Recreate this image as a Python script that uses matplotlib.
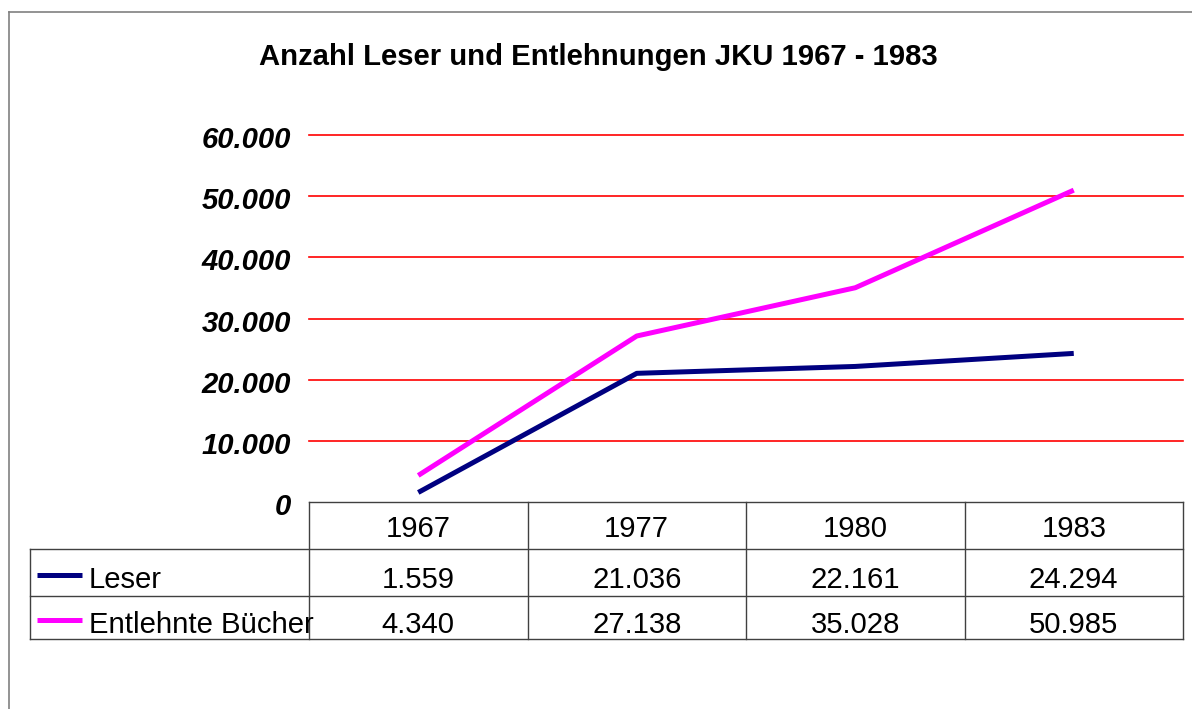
import matplotlib.pyplot as plt
from matplotlib.lines import Line2D
from matplotlib.transforms import blended_transform_factory, ScaledTranslation

# data
years = ['1967', '1977', '1980', '1983']
leser = [1559, 21036, 22161, 24294]
buecher = [4340, 27138, 35028, 50985]
series_names = ['Leser', 'Entlehnte Bücher']
series_colors = ['#000080', '#FF00FF']
y_ticks = [0, 10000, 20000, 30000, 40000, 50000, 60000]
title = 'Anzahl Leser und Entlehnungen JKU 1967 - 1983'

plt.rcParams['font.family'] = ['Liberation Sans', 'DejaVu Sans']
FS = 21.1

W, H = 1192, 709
fig = plt.figure(figsize=(W / 100, H / 100), dpi=100)


def fx(x):
    return x / W


def fy(y):
    return 1 - y / H


def de(v):
    # German thousands separator
    return f'{v:,}'.replace(',', '.')


ax = fig.add_axes([fx(309), fy(502), fx(1183) - fx(309), fy(135) - fy(502)])
xs = range(len(years))
series = [leser, buecher]
for vals, col in zip(series, series_colors):
    ax.plot(xs, vals, color=col, lw=3.6, solid_capstyle='butt', zorder=3)

ax.set_xlim(-0.5, len(years) - 0.5)
ax.set_ylim(0, 60000)
ax.set_yticks(y_ticks)
ax.set_yticklabels([de(v) for v in y_ticks], fontsize=FS,
                   fontweight='bold', fontstyle='italic')
ax.tick_params(axis='y', length=0, pad=13)
ax.set_xticks([])
shift = ScaledTranslation(0, -13 / 100, fig.dpi_scale_trans)
for lbl in ax.get_yticklabels():
    lbl.set_verticalalignment('baseline')
    lbl.set_transform(lbl.get_transform() + shift)
for s in ax.spines.values():
    s.set_visible(False)
for v in y_ticks[1:]:
    ax.axhline(v, color='#FF0000', lw=1.2, clip_on=False, zorder=1)

# data table below the plot
tr = blended_transform_factory(ax.transData, fig.transFigure)
line_kw = dict(color='#404040', lw=1.0)
rows = [502, 549, 596, 639]
baselines = [537, 588, 633]
key_y = [575, 620]

# header top line and column dividers
fig.add_artist(Line2D([-0.5, len(years) - 0.5], [fy(rows[0])] * 2,
                      transform=tr, **line_kw))
for i in range(len(years) + 1):
    fig.add_artist(Line2D([i - 0.5] * 2, [fy(rows[0]), fy(rows[-1])],
                          transform=tr, **line_kw))
# rows incl. legend column
for r in rows[1:]:
    fig.add_artist(Line2D([fx(30), fx(1183)], [fy(r)] * 2, **line_kw))
fig.add_artist(Line2D([fx(30)] * 2, [fy(rows[1]), fy(rows[-1])], **line_kw))

for i, yr in enumerate(years):
    ax.text(i, fy(baselines[0]), yr, transform=tr, ha='center', va='baseline',
            fontsize=FS, clip_on=False)

for k, (vals, name, col) in enumerate(zip(series, series_names, series_colors)):
    yb = baselines[k + 1]
    fig.add_artist(Line2D([fx(37), fx(82)], [fy(key_y[k])] * 2, color=col,
                          lw=3.6, solid_capstyle='butt'))
    fig.text(fx(89), fy(yb), name, ha='left', va='baseline', fontsize=FS)
    for i, v in enumerate(vals):
        ax.text(i, fy(yb), de(v), transform=tr, ha='center', va='baseline',
                fontsize=FS, clip_on=False)

fig.text(fx(598), fy(65), title, ha='center', va='baseline',
         fontsize=FS, fontweight='bold')

# outer chart frame
frame_kw = dict(color='#808080', lw=1.2)
fig.add_artist(Line2D([fx(9), fx(9)], [fy(12), 0], **frame_kw))
fig.add_artist(Line2D([fx(9), 1], [fy(12), fy(12)], **frame_kw))

fig.savefig('out.png', dpi=100)
